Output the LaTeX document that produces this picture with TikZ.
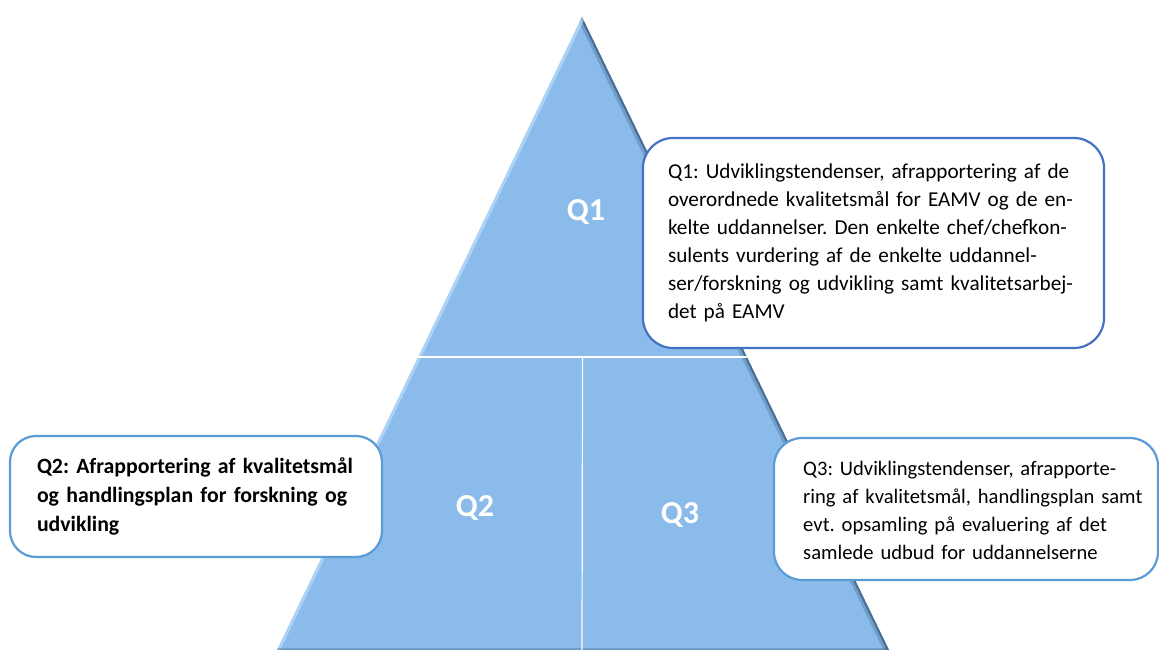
\documentclass[tikz,border=0pt]{standalone}
\usepackage{fontspec}
\setmainfont{Carlito}
\frenchspacing
\usetikzlibrary{calc,positioning}
\definecolor{pyrfill}{HTML}{8ABBEA}
\definecolor{pyrdark}{HTML}{3A5A7E}
\definecolor{pyrlight}{HTML}{C4E2FF}
\definecolor{boxdark}{HTML}{4472C4}
\definecolor{boxlight}{HTML}{5B9BD5}
\tikzset{
  qlabel/.style={
    text=white,
    font=\fontsize{32}{34}\selectfont\bfseries},
  callout/.style={
    rectangle,
    rounded corners=30pt,
    fill=white,
    draw=boxlight, line width=2.2pt,
    align=left,
    anchor=center,
    inner xsep=0pt,
    font=\fontsize{21.2}{28}\selectfont},
  divider/.style={draw=white, line width=1.2pt},
}

\begin{document}
\begin{tikzpicture}[x=1pt,y=-1pt]
		\useasboundingbox (0,0) rectangle (1159,650);
		% pyramid
		\coordinate (top) at (582,17);
		\coordinate (bl) at (277,650);
		\coordinate (br) at (889,650);
		\fill[pyrfill] (top) -- (bl) -- (br) -- cycle;
		\begin{scope}
			\clip (top) -- (bl) -- (br) -- cycle;
			\draw[pyrdark, line width=10pt, opacity=.3] (top) -- (br);
			\draw[pyrdark, line width=4pt, opacity=.7] (top) -- (br);
			\draw[pyrlight, line width=6pt, opacity=.6] (top) -- (bl);
			\draw[pyrdark, line width=4pt, opacity=.3] (bl) -- (br);
		\end{scope}
		\coordinate (hl) at ($(top)!0.537!(bl)$);
		\coordinate (hr) at ($(top)!0.537!(br)$);
		\draw[divider] (hl) -- (hr);
		\draw[divider] ($(hl)!0.5!(hr)$) -- (582,650);
		\node[qlabel] (q1) at (586,212) {Q1};
		\node[qlabel] (q2) at (475,508) {Q2};
		\node[qlabel] (q3) at (680,515) {Q3};
		% callouts
		\node[callout, draw=boxdark, minimum width=461pt, minimum height=210pt,
		  text width=411pt] (q1box) at (873.5,243)
		  {Q1: Udviklingstendenser, afrapportering af de\\
		   overordnede kvalitetsmål for EAMV og de en-\\
		   kelte uddannelser. Den enkelte chef/chefkon-\\
		   sulents vurdering af de enkelte uddannel-\\
		   ser/forskning og udvikling samt kvalitetsarbej-\\
		   det på EAMV};
		\node[callout, rounded corners=26pt, minimum width=372pt, minimum height=121pt,
		  text width=318pt, font=\fontsize{21.8}{29}\selectfont\bfseries] (q2box) at (196,496.5)
		  {Q2: Afrapportering af kvalitetsmål\\
		   og handlingsplan for forskning og\\
		   udvikling};
		\node[callout, rounded corners=28pt, minimum width=384pt, minimum height=142pt]
		  (q3box) at (966,509) {};
		\node[align=left, anchor=west, inner sep=0pt, text width=345pt,
		  font=\fontsize{20.6}{28}\selectfont] (q3text) at (803,510)
		  {Q3: Udviklingstendenser, afrapporte-\\
		   ring af kvalitetsmål, handlingsplan samt\\
		   evt. opsamling på evaluering af det\\
		   samlede udbud for uddannelserne};
	\end{tikzpicture}
\end{document}
